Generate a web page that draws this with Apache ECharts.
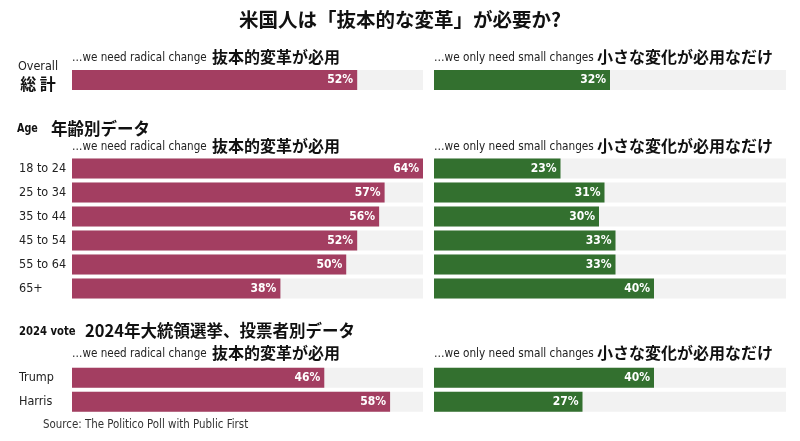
<!DOCTYPE html>
<html>
<head>
<meta charset="utf-8">
<script src="https://cdn.jsdelivr.net/npm/echarts@6/dist/echarts.min.js"></script>
<style>html,body{margin:0;padding:0;background:#fff}#c{width:800px;height:441px}</style>
</head>
<body>
<div id="c"></div>
<script>
// ---- data ----
const overallCats = ['Overall\n総 計'];
const overallRadical = [52];
const overallSmall = [32];
const ageCats = ['18 to 24', '25 to 34', '35 to 44', '45 to 54', '55 to 64', '65+'];
const ageRadical = [64, 57, 56, 52, 50, 38];
const ageSmall = [23, 31, 30, 33, 33, 40];
const voteCats = ['Trump', 'Harris'];
const voteRadical = [46, 58];
const voteSmall = [40, 27];
const axisMax = 64;

const titleText = '米国人は「抜本的な変革」が必要か?';
const radicalEn = '…we need radical change';
const radicalJp = '抜本的変革が必用';
const smallEn = '…we only need small changes';
const smallJp = '小さな変化が必用なだけ';
const ageEn = 'Age';
const ageJp = '年齢別データ';
const voteEn = '2024 vote';
const voteJp = '2024年大統領選挙、投票者別データ';
const sourceText = 'Source: The Politico Poll with Public First';

// ---- style ----
const NARROW = "'DejaVu Sans Condensed', 'Liberation Sans', sans-serif";
const CJK = "'Noto Sans CJK JP', sans-serif";
const RED = '#a33e61';
const GREEN = '#33702f';
const BG = '#f2f2f2';
const TXT = '#222';

const L = { left: 72, width: 351 };
const R = { left: 434, width: 352 };
const sections = [
  { cats: overallCats, rad: overallRadical, sm: overallSmall, top: 68 },
  { cats: ageCats, rad: ageRadical, sm: ageSmall, top: 156.5 },
  { cats: voteCats, rad: voteRadical, sm: voteSmall, top: 365.7 }
];

const grid = [], xAxis = [], yAxis = [], series = [];
sections.forEach((s, i) => {
  [[L, s.rad, RED, true], [R, s.sm, GREEN, false]].forEach(([g, vals, col, isLeft]) => {
    const idx = grid.length;
    grid.push({ left: g.left, width: g.width, top: s.top, height: s.cats.length * 24 });
    xAxis.push({ gridIndex: idx, type: 'value', min: 0, max: axisMax, show: false });
    const lab = isLeft ? (i === 0 ? {
      show: true, align: 'center', margin: 34, padding: [0, 0, 9, 0],
      formatter: v => { const p = v.split('\n'); return '{en|' + p[0] + '}\n{jp|' + p[1] + '}'; },
      rich: {
        en: { fontFamily: NARROW, fontSize: 12.5, color: TXT, lineHeight: 16, align: 'center' },
        jp: { fontFamily: CJK, fontSize: 16, fontWeight: 'bold', color: '#111', lineHeight: 17, align: 'center' }
      }
    } : {
      show: true, align: 'left', margin: 53, fontFamily: NARROW, fontSize: 12.5, color: TXT
    }) : { show: false };
    yAxis.push({
      gridIndex: idx, type: 'category', inverse: true, data: s.cats,
      axisLine: { show: false }, axisTick: { show: false }, splitLine: { show: false },
      axisLabel: lab
    });
    series.push({
      type: 'bar', xAxisIndex: idx, yAxisIndex: idx, data: vals, barWidth: 20,
      itemStyle: { color: col }, showBackground: true, backgroundStyle: { color: BG },
      label: {
        show: true, position: 'insideRight', distance: 4, formatter: '{c}%',
        color: '#fff', fontFamily: NARROW, fontWeight: 'bold', fontSize: 12
      },
      silent: true, animation: false
    });
  });
});

function txt(x, y, text, o) {
  return {
    type: 'text', x: x, y: y, scaleX: o.sx || 1,
    style: {
      text: text, fontFamily: o.cjk ? CJK : NARROW, fontSize: o.size,
      fontWeight: o.bold ? 'bold' : 'normal', fill: o.fill || TXT,
      textAlign: o.align || 'left', align: o.align || 'left',
      textVerticalAlign: 'middle', verticalAlign: 'middle'
    }
  };
}
function headerPair(y) {
  return [
    txt(72, y + 1, radicalEn, { size: 13, sx: 0.89 }),
    txt(212, y, radicalJp, { size: 16, bold: true, cjk: true, fill: '#111' }),
    txt(434, y + 1, smallEn, { size: 13, sx: 0.9 }),
    txt(597, y, smallJp, { size: 16, bold: true, cjk: true, fill: '#111' })
  ];
}

const graphic = [
  txt(400, 20, titleText, { size: 19.5, bold: true, cjk: true, fill: '#111', align: 'center' }),
  ...headerPair(57),
  txt(17, 129, ageEn, { size: 13, bold: true, sx: 0.82, fill: '#111' }),
  txt(51, 129, ageJp, { size: 16.5, bold: true, cjk: true, fill: '#111' }),
  ...headerPair(146),
  txt(19, 332, voteEn, { size: 13, bold: true, sx: 0.86, fill: '#111' }),
  txt(85, 331, voteJp, { size: 16.5, bold: true, cjk: true, fill: '#111' }),
  ...headerPair(353),
  txt(43, 425, sourceText, { size: 12, sx: 0.95, fill: '#333' })
];

const chart = echarts.init(document.getElementById('c'), null, { renderer: 'canvas' });
chart.setOption({ animation: false, grid, xAxis, yAxis, series, graphic });
</script>
</body>
</html>
